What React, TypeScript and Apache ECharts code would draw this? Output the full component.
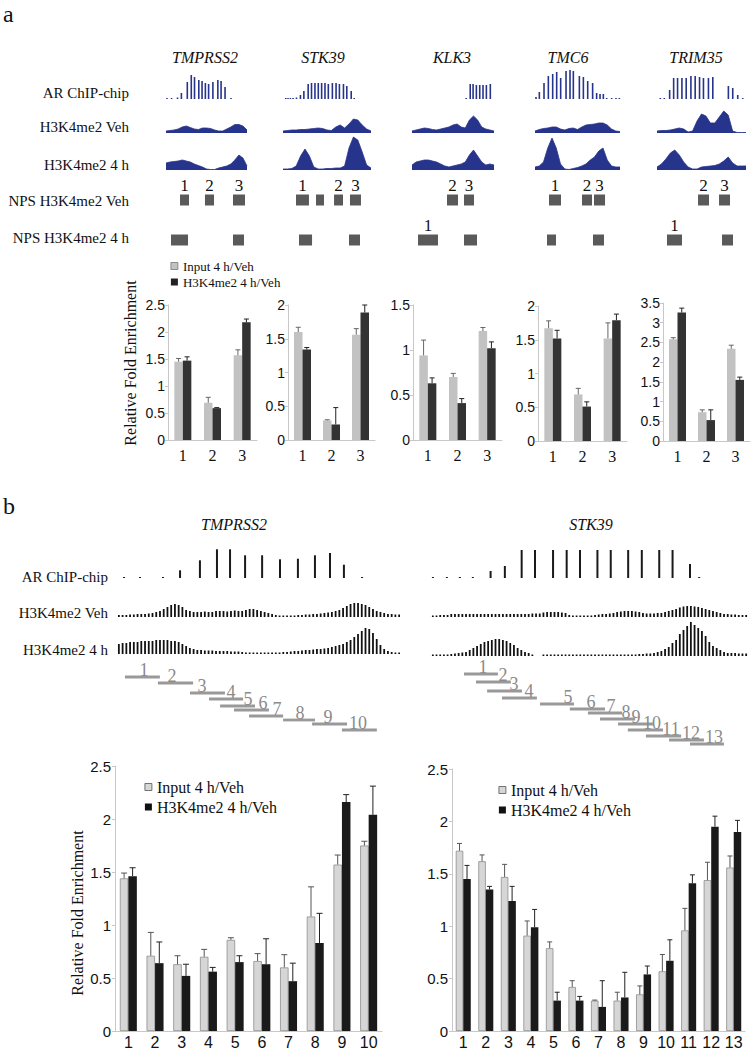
import React, { useEffect, useRef } from "react";
import * as echarts from "echarts";

const SERIF = "'Liberation Serif', 'Times New Roman', serif";
const SANS = "'Liberation Sans', Arial, sans-serif";
const NAVY = "#27348b";

// ---------------- Panel a : genes ----------------
const genesA = ["TMPRSS2", "STK39", "KLK3", "TMC6", "TRIM35"];
const rowLabelsA = ["AR ChIP-chip", "H3K4me2 Veh", "H3K4me2 4 h", "NPS H3K4me2 Veh", "NPS H3K4me2 4 h"];

// AR ChIP-chip probes: [position (0-100 across region), signal]
const arA_TMPRSS2 = [[1.2, 1], [6.9, 1], [14.2, 1.5], [19, 6], [26.3, 17], [31.2, 24], [35.2, 22], [40.5, 19], [44.5, 18], [48.6, 16], [52.6, 15], [57.9, 17], [64, 19], [68, 18], [72.9, 12], [80.2, 1]];
const arA_STK39 = [[3.1, 1], [5.7, 1], [8.4, 1], [11.5, 1], [15.3, 1.5], [19.8, 4], [23.7, 8], [28.6, 15], [32.4, 16], [36.3, 16], [40.1, 16], [43.9, 16], [47.7, 16], [51.5, 15], [56.1, 16], [60.3, 16], [64.1, 15], [68.7, 15], [72.5, 13], [77.5, 8], [80.9, 1]];
const arA_KLK3 = [[66, 1], [71, 15], [74.5, 15], [78.5, 14], [82.6, 14], [86.6, 14], [90.7, 14], [95.5, 15]];
const arA_TMC6 = [[1.2, 2], [5.1, 7], [10.6, 16], [15.7, 23], [20.8, 25], [25.5, 27], [30.2, 21], [36.5, 28], [41.2, 29], [45.1, 28], [52.2, 23], [56.9, 22], [62, 18], [67.8, 16], [72.5, 6], [76.5, 5], [80.4, 5], [84.3, 1], [90.2, 1], [95.3, 1], [99.2, 1]];
const arA_TRIM35 = [[3.7, 1], [8.2, 1], [14.2, 9], [18.7, 21], [23.1, 21], [28, 21], [32.8, 21], [38.1, 23], [42.9, 23], [47.8, 22], [52.2, 21], [57.8, 21], [62.7, 22], [80.2, 13], [85.1, 11], [90.7, 4], [96.3, 1]];

// H3K4me2 profiles, 21 evenly spaced samples across each region
const vehA_TMPRSS2 = [2, 2.5, 3, 4, 6, 7, 5.5, 4, 3.5, 5, 5, 4.5, 3, 2, 2, 4, 6, 8.5, 8.5, 7, 3];
const h4A_TMPRSS2 = [7, 8, 8.5, 9, 10, 9, 8, 6, 4.5, 3, 1, 0.5, 0.5, 2, 3, 4, 6, 10, 15, 12, 4];
const vehA_STK39 = [2, 2.5, 3, 3, 3.5, 3.5, 4, 4.5, 5, 4.5, 3, 2.5, 6, 8, 5, 9, 14, 13, 8, 4, 2];
const h4A_STK39 = [1, 1, 1.5, 4, 14, 21, 14, 3, 1, 1, 1.5, 1.5, 2, 2, 4, 22, 33, 30, 18, 5, 2];
const vehA_KLK3 = [2, 3, 4, 5, 4.5, 3.5, 3, 4, 5, 6, 8, 9, 6, 5, 13, 17, 13, 6, 4, 3, 2];
const h4A_KLK3 = [5, 8, 9, 10, 10, 9, 8, 6, 4, 3, 4, 5, 6, 8, 15, 20, 14, 8, 5, 6, 5];
const vehA_TMC6 = [2, 3.5, 4.5, 5, 6, 6, 4, 3, 4.5, 5, 3.5, 6, 8, 8.5, 9, 10, 10, 8, 4, 2, 1.5];
const h4A_TMC6 = [3, 4, 8, 22, 32, 22, 6, 1, 0.5, 1.5, 2.5, 4, 6, 10, 13, 19, 22, 10, 4, 3, 3];
const vehA_TRIM35 = [2, 2.5, 2.5, 3, 4, 5, 4, 1, 2, 12, 19, 17, 10, 10, 16, 22, 18, 2, 0.5, 0.5, 0.5];
const h4A_TRIM35 = [3, 6, 11, 17, 20, 15, 8, 3, 1, 1, 3, 3.5, 4, 4.5, 6, 9, 13, 7, 4, 4, 4];

// NPS regions: [start, end, row (0 = Veh, 1 = 4 h)] and their labels
const npsA_TMPRSS2 = [[17.3, 28.4, 0], [48.1, 59.3, 0], [82.7, 97.5, 0], [6.2, 27.2, 1], [82.7, 96.3, 1]];
const npsLabA_TMPRSS2 = ["1", "2", "3", "", ""];
const npsA_STK39 = [[14.8, 29.5, 0], [37.5, 46.6, 0], [58, 68.2, 0], [76.1, 88.6, 0], [18.2, 33, 1], [75, 87.5, 1]];
const npsLabA_STK39 = ["1", "", "2", "3", "", ""];
const npsA_KLK3 = [[42.7, 56.1, 0], [63.4, 75.6, 0], [7.3, 31.7, 1], [63.4, 79.3, 1]];
const npsLabA_KLK3 = ["2", "3", "1", ""];
const npsA_TMC6 = [[16.5, 30.6, 0], [55.3, 67.1, 0], [69.4, 82.4, 0], [14.1, 24.7, 1], [68.2, 81.2, 1]];
const npsLabA_TMC6 = ["1", "2", "3", "", ""];
const npsA_TRIM35 = [[46.1, 58.4, 0], [69.7, 82, 0], [11.2, 28.1, 1], [73, 85.4, 1]];
const npsLabA_TRIM35 = ["2", "3", "1", ""];

// qPCR, panel a
const catsA = ["1", "2", "3"];
const inA_TMPRSS2 = [1.45, 0.69, 1.57], inErrA_TMPRSS2 = [0.06, 0.1, 0.1];
const hA_TMPRSS2 = [1.47, 0.59, 2.18], hErrA_TMPRSS2 = [0.07, 0.01, 0.06];
const inA_STK39 = [1.6, 0.29, 1.56], inErrA_STK39 = [0.07, 0.01, 0.09];
const hA_STK39 = [1.34, 0.23, 1.89], hErrA_STK39 = [0.03, 0.25, 0.11];
const inA_KLK3 = [0.94, 0.7, 1.21], inErrA_KLK3 = [0.17, 0.04, 0.04];
const hA_KLK3 = [0.63, 0.41, 1.02], hErrA_KLK3 = [0.06, 0.05, 0.07];
const inA_TMC6 = [1.67, 0.69, 1.52], inErrA_TMC6 = [0.11, 0.09, 0.23];
const hA_TMC6 = [1.52, 0.51, 1.79], hErrA_TMC6 = [0.12, 0.07, 0.09];
const inA_TRIM35 = [2.58, 0.73, 2.34], inErrA_TRIM35 = [0.04, 0.06, 0.09];
const hA_TRIM35 = [3.26, 0.53, 1.55], hErrA_TRIM35 = [0.11, 0.26, 0.07];
const yMaxA = [2.5, 2, 1.5, 2, 3.5];

// ---------------- Panel b ----------------
const genesB = ["TMPRSS2", "STK39"];
const rowLabelsB = ["AR ChIP-chip", "H3K4me2 Veh", "H3K4me2 4 h"];

const arB_TMPRSS2 = [[2.5, 1], [8.1, 1], [16.2, 1], [22.2, 7.7], [29.2, 17.7], [35.2, 28.7], [39.8, 28.7], [45.1, 22.7], [51.1, 22.7], [57.4, 18.7], [63.7, 19.3], [69.7, 22.7], [75, 25], [79.9, 13.3], [86.3, 1]];
const arB_STK39 = [[0.6, 1], [5, 1], [9.1, 1], [13.2, 1], [18.8, 7], [23.3, 12], [28.6, 28], [32.8, 28], [38.5, 28], [42.8, 28], [47, 28], [52.5, 28], [56.7, 28], [62.2, 28], [66.5, 28], [72, 28], [76.2, 28], [81.7, 14], [84.6, 1]];

const vehB_TMPRSS2 = [2, 2, 2, 2.5, 2.5, 3, 3, 3, 3.5, 4, 5, 6, 8, 10, 12, 13, 12, 10, 7, 6, 5, 5, 5, 5.5, 5, 5, 6, 6, 6, 5.5, 6, 6.5, 6, 6, 7, 8, 8, 7, 6, 5, 4, 3, 2, 1.5, 1.5, 1.5, 1.5, 1.5, 2, 2, 2.5, 2.5, 3, 3, 3.5, 4, 4.5, 5, 6, 7, 9, 11, 13, 14, 14, 13, 12, 10, 8, 6, 5, 4, 3, 3, 2.5, 2.5];
const h4B_TMPRSS2 = [10, 11, 11, 12, 12, 12, 13, 13, 13, 13, 14, 14, 14, 14, 13, 13, 12, 10, 8, 6, 5, 4, 4, 3.5, 3.5, 3.5, 3, 3, 3, 3, 2.5, 2.5, 2.5, 2, 1.5, 1.5, 1.5, 1.5, 1.5, 1.5, 1.5, 1.5, 1.5, 1.5, 2, 2, 2.5, 3, 3, 3.5, 4, 4, 4.5, 5, 5, 5.5, 6, 7, 8, 9, 10, 12, 14, 17, 20, 23, 26, 25, 21, 15, 9, 5, 3, 2, 1.5, 1.5];
const vehB_STK39 = [1.5, 1.5, 2, 2, 2, 3, 3, 3, 3, 3, 3, 3, 3, 3, 3, 3, 3, 3, 3, 3, 3, 3, 3, 3, 3, 3, 3, 3.5, 3.5, 3.5, 4.5, 5, 5, 5, 5, 4.5, 4, 2, 1.5, 1.5, 1.5, 1.5, 1.5, 1.5, 2, 2.5, 3, 3, 3.5, 4, 5, 5.5, 6, 6, 6, 5.5, 5, 4, 3.5, 3.5, 3.5, 4, 4, 5, 6, 7, 8, 9.5, 10.5, 11, 11, 10.5, 10, 9, 8, 7, 6, 5, 4, 3, 3, 2.5, 2.5, 2, 2, 2];
const h4B_STK39 = [1.5, 1.5, 1.5, 1.5, 1.5, 2, 2.5, 3, 3.5, 4, 6, 8, 10, 12, 14, 15, 16, 17, 17, 16, 15, 13, 11, 8, 6, 4, 3, 1.5, 0, 0, 1.5, 1.5, 1.5, 1.5, 1.5, 1.5, 1.5, 1.5, 1.5, 1.5, 1.5, 1.5, 1.5, 1.5, 1.5, 1.5, 1.5, 1.5, 1.5, 1.5, 1.5, 1.5, 1.5, 1.5, 1.5, 1.5, 2, 2, 2.5, 2.5, 3, 4, 5, 7, 9, 13, 16, 22, 26, 30, 34, 31, 28, 25, 20, 14, 10, 8, 6, 4, 3, 3, 3, 2.5, 2.5, 2.5];

// qPCR amplicons: [start, end, label position, tier]
const ampB_TMPRSS2 = [[2.8, 15.1, 9.5, 0], [14.4, 26.8, 19.4, 6], [25.7, 38, 29.9, 16], [32.4, 44.4, 40.1, 22], [36.3, 48.6, 46.1, 29], [41.2, 53.5, 51.4, 33], [46.5, 58.5, 56.3, 39], [58.5, 69.7, 64.4, 43], [68.7, 81, 74.3, 47], [79.2, 91.5, 84.9, 53]];
const ampB_STK39 = [[10.4, 21.1, 16.4, 0], [14.2, 25.2, 22.7, 8], [17.7, 28.7, 26.2, 17], [22.4, 33.4, 30.9, 24], [34.4, 45.1, 43.2, 30], [43.8, 54.9, 50.5, 35], [49.5, 60.3, 56.8, 39], [53.3, 64.4, 61.5, 45], [59, 70, 64.7, 50], [62.1, 73.2, 69.7, 56], [67.8, 78.9, 75.7, 62], [75.1, 86.1, 82, 66], [81.7, 92.4, 89.3, 70]];

const catsB_TMPRSS2 = ["1", "2", "3", "4", "5", "6", "7", "8", "9", "10"];
const inB_TMPRSS2 = [1.44, 0.71, 0.63, 0.7, 0.86, 0.66, 0.6, 1.08, 1.57, 1.75];
const inErrB_TMPRSS2 = [0.05, 0.22, 0.08, 0.07, 0.02, 0.07, 0.12, 0.28, 0.09, 0.04];
const hB_TMPRSS2 = [1.46, 0.64, 0.52, 0.56, 0.65, 0.63, 0.47, 0.83, 2.16, 2.04];
const hErrB_TMPRSS2 = [0.08, 0.2, 0.11, 0.04, 0.06, 0.24, 0.17, 0.28, 0.07, 0.27];

const catsB_STK39 = ["1", "2", "3", "4", "5", "6", "7", "8", "9", "10", "11", "12", "13"];
const inB_STK39 = [1.72, 1.62, 1.47, 0.91, 0.79, 0.42, 0.29, 0.29, 0.35, 0.57, 0.96, 1.44, 1.56];
const inErrB_STK39 = [0.07, 0.06, 0.12, 0.14, 0.06, 0.06, 0.005, 0.08, 0.08, 0.16, 0.21, 0.17, 0.11];
const hB_STK39 = [1.45, 1.35, 1.24, 0.99, 0.29, 0.29, 0.23, 0.32, 0.54, 0.67, 1.41, 1.95, 1.9];
const hErrB_STK39 = [0.13, 0.03, 0.14, 0.17, 0.08, 0.04, 0.25, 0.24, 0.08, 0.2, 0.08, 0.1, 0.11];

const legendNames = ["Input 4 h/Veh", "H3K4me2 4 h/Veh"];

// ---------------- layout ----------------
const TRACK_A = [[166, 247], [283, 371], [412, 494], [535, 620], [657, 746]];
const GENE_X_A = [205, 323, 452, 568, 696];
const BAR_A = [[168, 305, 89, 135], [288, 305, 87, 135], [413, 305, 89, 135], [538, 306, 89, 135], [663, 303, 87, 138]];
const TRACK_B = [[117, 401], [431, 748]];
const GENE_X_B = [234, 591];

function buildOption() {
  const grid: any[] = [];
  const xAxis: any[] = [];
  const yAxis: any[] = [];
  const series: any[] = [];
  const add = (g: any, xa: any, ya: any) => {
    const i = grid.length;
    grid.push(g);
    xAxis.push({ gridIndex: i, ...xa });
    yAxis.push({ gridIndex: i, ...ya });
    return i;
  };
  const hv = (min: number, max: number, inverse = false) => ({ type: "value", min, max, show: false, inverse });
  const hc = (n: number) => ({ type: "category", data: Array.from({ length: n }, (_, k) => String(k)), show: false, boundaryGap: true });

  const arSeries = (gi: number, data: number[][], color: string, bw: number) => ({
    type: "bar", xAxisIndex: gi, yAxisIndex: gi, data, barWidth: bw, itemStyle: { color }, silent: true,
  });
  const areaSeries = (gi: number, vals: number[]) => ({
    type: "line", xAxisIndex: gi, yAxisIndex: gi, symbol: "none", silent: true,
    data: vals.map((v, k) => [k * 5, v]),
    lineStyle: { color: NAVY, width: 0.8 }, areaStyle: { color: NAVY, opacity: 1 },
  });

  // ---- panel a tracks ----
  const arA = [arA_TMPRSS2, arA_STK39, arA_KLK3, arA_TMC6, arA_TRIM35];
  const vehA = [vehA_TMPRSS2, vehA_STK39, vehA_KLK3, vehA_TMC6, vehA_TRIM35];
  const h4A = [h4A_TMPRSS2, h4A_STK39, h4A_KLK3, h4A_TMC6, h4A_TRIM35];
  const npsA = [npsA_TMPRSS2, npsA_STK39, npsA_KLK3, npsA_TMC6, npsA_TRIM35];
  const npsLabA = [npsLabA_TMPRSS2, npsLabA_STK39, npsLabA_KLK3, npsLabA_TMC6, npsLabA_TRIM35];
  TRACK_A.forEach(([l, r], g) => {
    const w = r - l;
    const gAr = add({ left: l, top: 70, width: w, height: 29 }, hv(0, 100), hv(0, 29));
    series.push(arSeries(gAr, arA[g], NAVY, 1.6));
    const gV = add({ left: l, top: 108, width: w, height: 25 }, hv(0, 100), hv(0, 25));
    series.push(areaSeries(gV, vehA[g]));
    const g4 = add({ left: l, top: 135, width: w, height: 35 }, hv(0, 100), hv(0, 35));
    series.push(areaSeries(g4, h4A[g]));
    const gN = add({ left: l, top: 180, width: w, height: 80 }, hv(0, 100), hv(0, 2, true));
    const labs = npsLabA[g];
    series.push({
      type: "custom", xAxisIndex: gN, yAxisIndex: gN, data: npsA[g], silent: true,
      renderItem: (params: any, api: any) => {
        const s = api.coord([api.value(0), api.value(2) + 0.5]);
        const e = api.coord([api.value(1), api.value(2) + 0.5]);
        const t = labs[params.dataIndex];
        const children: any[] = [
          { type: "rect", shape: { x: s[0], y: s[1] - 5.5, width: e[0] - s[0], height: 11 }, style: { fill: "#5a5a5a" } },
        ];
        if (t) {
          children.push({
            type: "text", x: (s[0] + e[0]) / 2, y: s[1] - 6,
            style: { text: t, fontSize: 17, fontFamily: SERIF, fill: "#111", textAlign: "center", textVerticalAlign: "bottom", align: "center", verticalAlign: "bottom" },
          });
        }
        return { type: "group", children };
      },
    });
  });

  // ---- bar charts ----
  const errSeries = (gi: number, vals: number[], errs: number[], off: number, color: string, cap: number) => ({
    type: "custom", xAxisIndex: gi, yAxisIndex: gi, z: 5, silent: true,
    data: vals.map((v, k) => [k, v, errs[k]]),
    renderItem: (params: any, api: any) => {
      const p0 = api.coord([api.value(0), api.value(1)]);
      const p1 = api.coord([api.value(0), api.value(1) + api.value(2)]);
      const x = p0[0] + off;
      return {
        type: "group", children: [
          { type: "line", shape: { x1: x, y1: p0[1], x2: x, y2: p1[1] }, style: { stroke: color, lineWidth: 1 } },
          { type: "line", shape: { x1: x - cap, y1: p1[1], x2: x + cap, y2: p1[1] }, style: { stroke: color, lineWidth: 1 } },
        ],
      };
    },
  });

  const barChart = (g: any, cats: string[], inp: number[], inpE: number[], h3: number[], h3E: number[], max: number, st: any) => {
    const gi = add(
      g,
      {
        type: "category", data: cats,
        axisLine: { lineStyle: { color: "#c8c8c8", width: 1 } },
        axisTick: { length: 4, lineStyle: { color: "#c8c8c8" } },
        axisLabel: { interval: 0, fontFamily: st.xFont, fontSize: st.xSize, color: "#111", margin: st.xMargin },
      },
      {
        type: "value", min: 0, max, interval: 0.5,
        axisLine: { show: true, lineStyle: { color: "#c8c8c8", width: 1 } },
        axisTick: { show: true, length: 3, lineStyle: { color: "#c8c8c8" } },
        splitLine: { show: false },
        axisLabel: { fontFamily: SANS, fontSize: st.ySize, color: "#111", margin: st.yMargin },
      }
    );
    series.push({
      type: "bar", name: legendNames[0], xAxisIndex: gi, yAxisIndex: gi, data: inp, barWidth: st.bw, barGap: "0%",
      itemStyle: { color: st.gray, borderColor: st.grayBorder, borderWidth: st.grayBorderW }, silent: true,
    });
    series.push({
      type: "bar", name: legendNames[1], xAxisIndex: gi, yAxisIndex: gi, data: h3, barWidth: st.bw, barGap: "0%",
      itemStyle: { color: st.black }, silent: true,
    });
    series.push(errSeries(gi, inp, inpE, -st.bw / 2, st.grayErr, st.cap));
    series.push(errSeries(gi, h3, h3E, st.bw / 2, "#222", st.cap));
  };

  const stA = { xFont: SERIF, xSize: 16, xMargin: 7, ySize: 14, yMargin: 3, bw: 8.5, gray: "#c2c2c2", grayBorder: "#c2c2c2", grayBorderW: 0, black: "#333333", grayErr: "#666", cap: 2.5 };
  const inA = [inA_TMPRSS2, inA_STK39, inA_KLK3, inA_TMC6, inA_TRIM35];
  const inEA = [inErrA_TMPRSS2, inErrA_STK39, inErrA_KLK3, inErrA_TMC6, inErrA_TRIM35];
  const hA = [hA_TMPRSS2, hA_STK39, hA_KLK3, hA_TMC6, hA_TRIM35];
  const hEA = [hErrA_TMPRSS2, hErrA_STK39, hErrA_KLK3, hErrA_TMC6, hErrA_TRIM35];
  BAR_A.forEach(([l, t, w, h], k) => {
    barChart({ left: l, top: t, width: w, height: h }, catsA, inA[k], inEA[k], hA[k], hEA[k], yMaxA[k], stA);
  });

  // ---- panel b tracks ----
  const arB = [arB_TMPRSS2, arB_STK39];
  const vehB = [vehB_TMPRSS2, vehB_STK39];
  const h4B = [h4B_TMPRSS2, h4B_STK39];
  const h4Box = [[626, 28], [620, 36]];
  const ampB = [ampB_TMPRSS2, ampB_STK39];
  const ampBox = [[677, 60], [674, 70]];
  TRACK_B.forEach(([l, r], g) => {
    const w = r - l;
    const gAr = add({ left: l, top: 548, width: w, height: 30 }, hv(0, 100), hv(0, 30));
    series.push(arSeries(gAr, arB[g], "#1a1a1a", 2));
    const gV = add({ left: l, top: 600, width: w, height: 17 }, hc(vehB[g].length), hv(0, 17));
    series.push({ type: "bar", xAxisIndex: gV, yAxisIndex: gV, data: vehB[g], barWidth: 1.8, itemStyle: { color: "#111" }, silent: true });
    const g4 = add({ left: l, top: h4Box[g][0], width: w, height: h4Box[g][1] }, hc(h4B[g].length), hv(0, h4Box[g][1]));
    series.push({ type: "bar", xAxisIndex: g4, yAxisIndex: g4, data: h4B[g], barWidth: 1.8, itemStyle: { color: "#111" }, silent: true });
    const gA = add({ left: l, top: ampBox[g][0], width: w, height: ampBox[g][1] }, hv(0, 100), hv(0, ampBox[g][1], true));
    series.push({
      type: "custom", xAxisIndex: gA, yAxisIndex: gA, data: ampB[g], silent: true,
      renderItem: (params: any, api: any) => {
        const a = api.coord([api.value(0), api.value(3)]);
        const b = api.coord([api.value(1), api.value(3)]);
        const lp = api.coord([api.value(2), api.value(3)]);
        return {
          type: "group", children: [
            { type: "line", shape: { x1: a[0], y1: a[1], x2: b[0], y2: b[1] }, style: { stroke: "#999999", lineWidth: 2.8 } },
            {
              type: "text", x: lp[0], y: lp[1] + 2,
              style: { text: String(params.dataIndex + 1), fontSize: 18, fontFamily: SERIF, fill: "#8a8a8a", textAlign: "center", textVerticalAlign: "bottom", align: "center", verticalAlign: "bottom" },
            },
          ],
        };
      },
    });
  });

  const stB = { xFont: SANS, xSize: 16, xMargin: 3, ySize: 15, yMargin: 4, bw: 8.5, gray: "#d6d6d6", grayBorder: "#8e8e8e", grayBorderW: 0.8, black: "#1a1a1a", grayErr: "#555", cap: 3 };
  barChart({ left: 115, top: 766, width: 267, height: 266 }, catsB_TMPRSS2, inB_TMPRSS2, inErrB_TMPRSS2, hB_TMPRSS2, hErrB_TMPRSS2, 2.5, stB);
  barChart({ left: 452, top: 769, width: 293, height: 263 }, catsB_STK39, inB_STK39, inErrB_STK39, hB_STK39, hErrB_STK39, 2.5, { ...stB, bw: 7.5, cap: 2.5 });

  // ---- texts ----
  const txt = (text: string, x: number, y: number, size: number, opts: any = {}) => ({
    type: "text", x, y, rotation: opts.rotation || 0, silent: true,
    style: {
      text, fontSize: size, fontFamily: opts.family || SERIF, fontStyle: opts.italic ? "italic" : "normal", fill: opts.fill || "#111",
      textAlign: opts.align || "left", textVerticalAlign: "middle", align: opts.align || "left", verticalAlign: "middle",
    },
  });
  const graphic: any[] = [];
  graphic.push(txt("a", 3, 14, 24));
  genesA.forEach((n, k) => graphic.push(txt(n, GENE_X_A[k], 57, 16, { italic: true, align: "center" })));
  const rowYA = [93, 127, 165, 201, 238];
  rowLabelsA.forEach((n, k) => graphic.push(txt(n, 129, rowYA[k], 15, { align: "right" })));
  graphic.push(txt("Relative Fold Enrichment", 130, 363, 16, { align: "center", rotation: Math.PI / 2 }));

  graphic.push(txt("b", 3, 506, 24));
  genesB.forEach((n, k) => graphic.push(txt(n, GENE_X_B[k], 524, 16, { italic: true, align: "center" })));
  const rowYB = [577, 613, 650];
  rowLabelsB.forEach((n, k) => graphic.push(txt(n, 108, rowYB[k], 15, { align: "right" })));
  graphic.push(txt("Relative Fold Enrichment", 77, 913, 16, { align: "center", rotation: Math.PI / 2 }));

  const legendA = {
    left: 170.5, top: 258, orient: "vertical", padding: 0, itemGap: 0, itemWidth: 7, itemHeight: 7, selectedMode: false, icon: "rect",
    textStyle: { fontFamily: SERIF, fontSize: 13, color: "#111", lineHeight: 16 },
    data: [
      { name: legendNames[0], itemStyle: { color: "#c2c2c2", borderColor: "#777", borderWidth: 0.8 } },
      { name: legendNames[1], itemStyle: { color: "#222", borderWidth: 0 } },
    ],
  };
  const legB = (left: number, top: number) => ({
    left, top, orient: "vertical", padding: 0, itemGap: 0, itemWidth: 7, itemHeight: 7, selectedMode: false, icon: "rect",
    textStyle: { fontFamily: SERIF, fontSize: 16, color: "#111", lineHeight: 20 },
    data: [
      { name: legendNames[0], itemStyle: { color: "#d6d6d6", borderColor: "#555", borderWidth: 0.8 } },
      { name: legendNames[1], itemStyle: { color: "#111", borderWidth: 0 } },
    ],
  });

  return {
    animation: false,
    backgroundColor: "#ffffff",
    grid, xAxis, yAxis, series, graphic,
    legend: [legendA, legB(144.5, 777), legB(498.5, 780)],
  };
}

export default function App() {
  const ref = useRef<HTMLDivElement>(null);
  useEffect(() => {
    if (!ref.current) return;
    const chart = echarts.init(ref.current, undefined, { renderer: "svg" });
    chart.setOption(buildOption() as any);
    return () => chart.dispose();
  }, []);
  return <div ref={ref} style={{ position: "fixed", left: 0, top: 0, width: 751, height: 1050, background: "#fff" }} />;
}
